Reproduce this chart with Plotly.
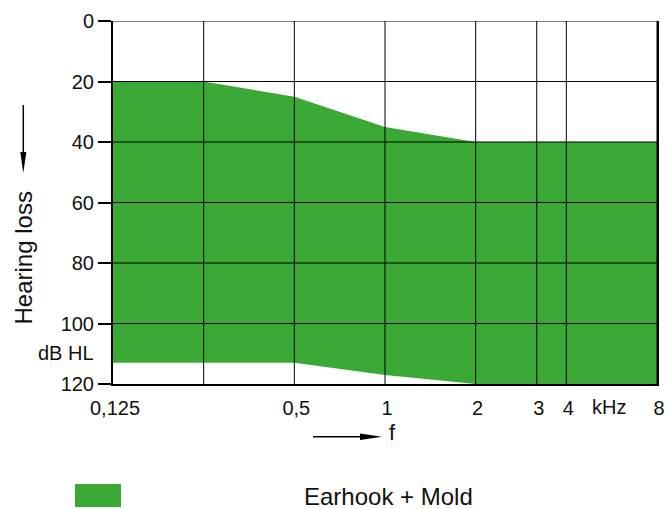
import plotly.graph_objects as go

# ---- data ----
freq_upper = [0.125, 0.25, 0.5, 1, 2, 8]
loss_upper = [20, 20, 25, 35, 40, 40]
freq_lower = [0.125, 0.5, 1, 2, 8]
loss_lower = [113, 113, 117, 120, 120]
series_name = "Earhook + Mold"

x_tickvals = [0.125, 0.25, 0.5, 1, 2, 3.19, 4, 8]
x_ticktext = ["0,125", "", "0,5", "1", "2", "3", "4", "8"]
y_tickvals = [0, 20, 40, 60, 80, 100, 120]

GREEN = "#3BA935"
FONT = "Liberation Sans, Arial, sans-serif"

W, H = 668, 509
L, R, T, B = 113, 11, 21, 125
PW, PH = W - L - R, H - T - B


def px(x):
    return (x - L) / PW


def py(y):
    return (H - B - y) / PH


fig = go.Figure()

# filled band
poly_x = freq_upper + freq_lower[::-1]
poly_y = loss_upper + loss_lower[::-1]
fig.add_trace(go.Scatter(x=poly_x, y=poly_y, fill="toself", fillcolor=GREEN,
                         line=dict(width=0), mode="lines", name=series_name,
                         showlegend=False, hoverinfo="skip"))

# grid lines drawn above the fill
gx, gy = [], []
for v in x_tickvals[1:]:
    gx += [v, v, None]
    gy += [y_tickvals[0], y_tickvals[-1], None]
for v in y_tickvals[:-1]:
    gx += [x_tickvals[0], x_tickvals[-1], None]
    gy += [v, v, None]
fig.add_trace(go.Scatter(x=gx, y=gy, mode="lines", line=dict(color="#000", width=1),
                         showlegend=False, hoverinfo="skip"))

fig.update_xaxes(type="log", range=[-0.90309, 0.90309], tickvals=x_tickvals,
                 ticktext=x_ticktext, showgrid=False, zeroline=False, automargin=False,
                 showline=True, linecolor="#000", linewidth=2, ticks="",
                 ticklabelstandoff=5, ticklabelshift=2, layer="above traces",
                 tickfont=dict(size=20, color="#111", family=FONT))
fig.update_yaxes(range=[120, 0], tickvals=y_tickvals, showgrid=False, zeroline=False,
                 automargin=False,
                 showline=True, linecolor="#000", linewidth=2, mirror=True,
                 ticks="outside", ticklen=13, tickwidth=1.5, tickcolor="#000",
                 layer="above traces",
                 tickfont=dict(size=20, color="#111", family=FONT))

annotations = [
    dict(text="Hearing loss", x=px(22.5), y=py(258), textangle=-90, font=dict(size=24)),
    dict(text="dB HL", x=px(66), y=py(353), font=dict(size=20)),
    dict(text="f", x=px(392), y=py(433), font=dict(size=22)),
    dict(text="kHz", x=px(609), y=py(407), font=dict(size=20)),
    dict(text=series_name, x=px(388), y=py(496.5), font=dict(size=24)),
]
for a in annotations:
    a.update(xref="paper", yref="paper", showarrow=False, xanchor="center", yanchor="middle")
    a["font"].update(family=FONT, color="#111")

shapes = [
    # y arrow
    dict(type="line", x0=px(23.3), x1=px(23.3), y0=py(105), y1=py(153),
         line=dict(color="#000", width=1.5)),
    dict(type="path", path=f"M {px(20.3)} {py(152)} L {px(26.3)} {py(152)} L {px(23.3)} {py(173)} Z",
         fillcolor="#000", line=dict(width=0)),
    # x arrow
    dict(type="line", x0=px(313), x1=px(361), y0=py(436.7), y1=py(436.7),
         line=dict(color="#000", width=1.5)),
    dict(type="path", path=f"M {px(360)} {py(433.5)} L {px(360)} {py(440)} L {px(382)} {py(436.7)} Z",
         fillcolor="#000", line=dict(width=0)),
    # legend swatch
    dict(type="rect", x0=px(75), x1=px(121), y0=py(507), y1=py(484),
         fillcolor=GREEN, line=dict(width=0)),
]
for s in shapes:
    s.update(xref="paper", yref="paper")

fig.update_layout(width=W, height=H, margin=dict(l=L, r=R, t=T, b=B),
                  plot_bgcolor="white", paper_bgcolor="white",
                  annotations=annotations, shapes=shapes, showlegend=False,
                  font=dict(family=FONT, color="#111"))

fig.write_html("out.html", config={"displayModeBar": False},
               post_script="document.body.style.margin='0';document.body.style.padding='0';")
